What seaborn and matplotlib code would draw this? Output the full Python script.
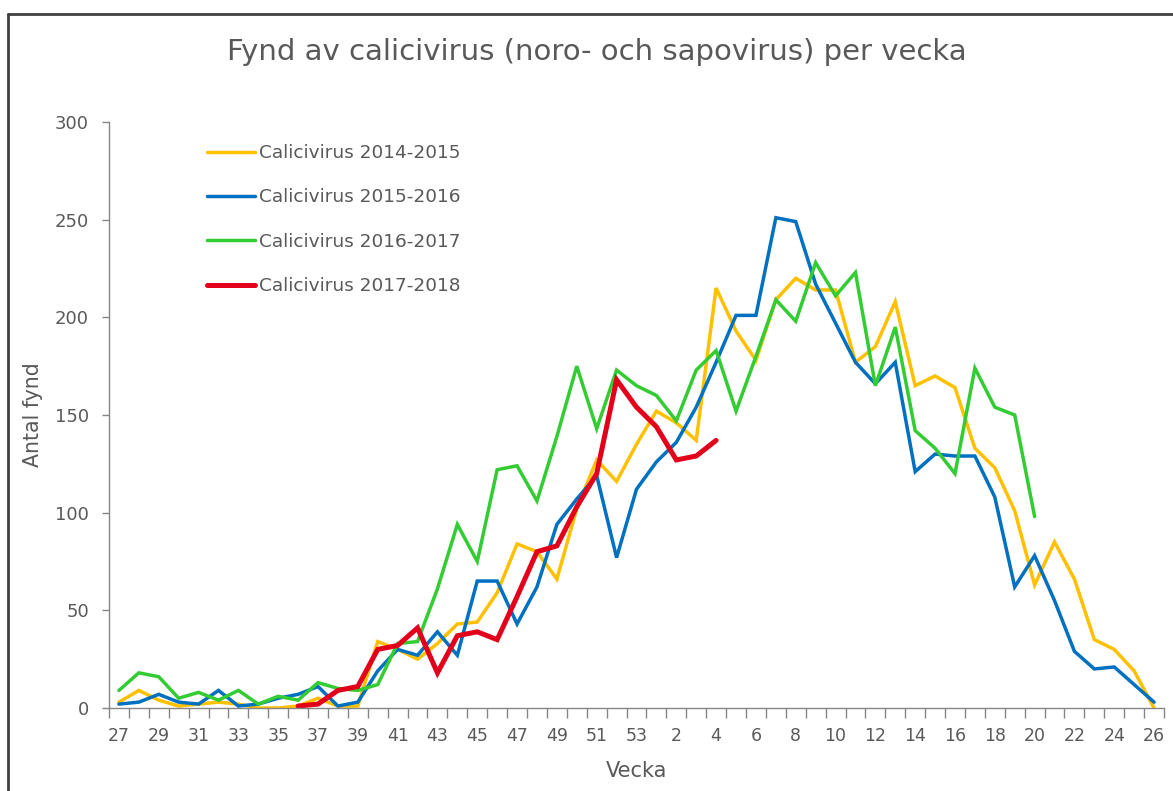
import numpy as np
import pandas as pd
import matplotlib
matplotlib.use("Agg")
import matplotlib.pyplot as plt
from matplotlib.lines import Line2D
import seaborn as sns

weeks = list(range(27, 54)) + list(range(1, 27))

s2014 = [3, 9, 4, 1, 2, 3, 2, 0, 0, 1, 5, 1, 1, 34, 30, 25, 33, 43, 44, 59,
         84, 80, 66, 102, 127, 116, 135, 152, 146, 137, 215, 193, 178, 209, 220,
         214, 214, 177, 185, 208, 165, 170, 164, 133, 123, 101, 63, 85, 66, 35,
         30, 19, 0]
s2015 = [2, 3, 7, 3, 2, 9, 1, 2, 5, 7, 11, 1, 3, 19, 30, 27, 39, 27, 65, 65,
         43, 62, 94, 107, 119, 77, 112, 126, 136, 154, 177, 201, 201, 251, 249,
         217, 197, 177, 166, 177, 121, 130, 129, 129, 108, 62, 78, 55, 29, 20,
         21, 12, 3]
s2016 = [9, 18, 16, 5, 8, 4, 9, 2, 6, 4, 13, 10, 9, 12, 33, 34, 61, 94, 75, 122,
         124, 106, 139, 175, 143, 173, 165, 160, 147, 173, 183, 152, 180, 209,
         198, 228, 211, 223, 165, 195, 142, 133, 120, 174, 154, 150, 98]
s2017 = [1, 2, 9, 11, 30, 32, 41, 18, 37, 39, 35, 57, 80, 83, 103, 120, 168,
         154, 144, 127, 129, 137]
s2017_start = 9  # first week index (week 36)

labels = ["Calicivirus 2014-2015", "Calicivirus 2015-2016",
          "Calicivirus 2016-2017", "Calicivirus 2017-2018"]
colors = ["#FFC000", "#0070C0", "#33CC33", "#E2001A"]
widths = [2.5, 2.5, 2.5, 3.6]

series = [
    (labels[0], list(range(len(s2014))), s2014),
    (labels[1], list(range(len(s2015))), s2015),
    (labels[2], list(range(len(s2016))), s2016),
    (labels[3], list(range(s2017_start, s2017_start + len(s2017))), s2017),
]

sns.set_theme(style="white")
plt.rcParams['font.family'] = ['DejaVu Sans']
txt = "#595959"

fig = plt.figure(figsize=(11.73, 7.91), dpi=100)
ax = fig.add_axes([109 / 1173, 83 / 791, (1164 - 109) / 1173, (708 - 122) / 791])

for (lab, pos, vals), c, w in zip(series, colors, widths):
    df = pd.DataFrame({"pos": pos, "value": vals})
    sns.lineplot(data=df, x="pos", y="value", ax=ax, color=c, linewidth=w,
                 label=lab, solid_joinstyle="miter")

ax.set_xlim(-0.5, len(weeks) - 0.5)
ax.set_ylim(0, 300)
ax.set_yticks([0, 50, 100, 150, 200, 250, 300])
major = list(range(0, len(weeks), 2))
ax.set_xticks(major)
ax.set_xticklabels([str(weeks[i]) for i in major])
ax.set_xticks(np.arange(-0.5, len(weeks), 1), minor=True)
ax.tick_params(axis="x", which="major", length=0, pad=14, labelsize=12.5, labelcolor=txt)
ax.tick_params(axis="x", which="minor", length=7, width=1, color="#868686",
               direction="out", bottom=True)
ax.tick_params(axis="y", which="major", length=5, width=1, color="#868686",
               direction="out", labelsize=13, labelcolor=txt, pad=9.5, left=True)

for sp in ["top", "right"]:
    ax.spines[sp].set_visible(False)
for sp in ["left", "bottom"]:
    ax.spines[sp].set_color("#868686")
    ax.spines[sp].set_linewidth(1)

ax.set_xlabel("Vecka", fontsize=15, color=txt, labelpad=11)
ax.set_ylabel("Antal fynd", fontsize=14.8, color=txt, labelpad=8)

leg = ax.legend(loc="upper left", bbox_to_anchor=(207 / 1173, (791 - 144) / 791),
                bbox_transform=fig.transFigure, frameon=False, fontsize=13.3,
                handlelength=2.6, handletextpad=0.22, labelspacing=1.43,
                borderpad=0, borderaxespad=0)
for t in leg.get_texts():
    t.set_color(txt)

fig.text(597 / 1173, 1 - 52 / 791, "Fynd av calicivirus (noro- och sapovirus) per vecka",
         ha="center", va="center", fontsize=21, color=txt)

# chart frame (left and top edges visible)
fig.add_artist(Line2D([8 / 1173, 8 / 1173], [0, 1 - 14 / 791], transform=fig.transFigure,
                      color="#404040", linewidth=2))
fig.add_artist(Line2D([8 / 1173, 1], [1 - 14 / 791, 1 - 14 / 791], transform=fig.transFigure,
                      color="#404040", linewidth=2))

fig.savefig("out.png", dpi=100, facecolor="white")
